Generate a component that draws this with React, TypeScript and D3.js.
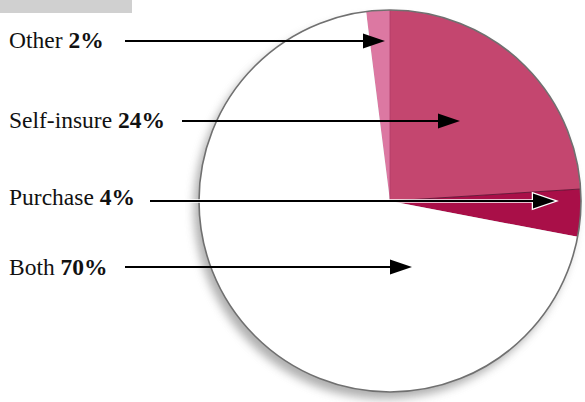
import React from "react";
import * as d3 from "d3";

// Shares of respondents by approach
const categories = ["Other", "Self-insure", "Purchase", "Both"];
const shares = [2, 24, 4, 70];
const sliceColors = ["#dc78a2", "#c4466f", "#a90f48", "#ffffff"];

// Label rows, pointer rows and where each pointer ends, measured from the pie centre
const labelY = [48, 128, 205, 275];
const arrowY = [41, 121, 201, 267];
const lineStartX = [125, 182, 150, 125];
const tipOffsetX = [-5, 70, 165, 22];
const haloed = [false, false, true, false];

const W = 585;
const H = 402;
const cx = 390;
const cy = 201;
const R = 191;

export default function App() {
  const start = -(shares[0] / 100) * 2 * Math.PI;
  const pie = d3
    .pie<number>()
    .sort(null)
    .value((d) => d)
    .startAngle(start)
    .endAngle(start + 2 * Math.PI);
  const arcs = pie(shares);
  const arc = d3.arc<d3.PieArcDatum<number>>().innerRadius(0).outerRadius(R);

  const headLen = 22;
  const headHalf = 7.5;

  return (
    <svg
      width={W}
      height={H}
      style={{ position: "absolute", left: 0, top: 0, background: "#fff" }}
      fontFamily="'Liberation Serif', 'Times New Roman', serif"
    >
      <defs>
        <filter id="pieShadow" x="-20%" y="-20%" width="140%" height="140%">
          <feGaussianBlur stdDeviation="5" />
        </filter>
      </defs>

      <rect x={0} y={0} width={132} height={13} fill="#d0d0d0" />

      {/* soft shadow under the disc */}
      <circle cx={cx - 5} cy={cy + 7} r={R} fill="#7a7a7a" opacity={0.6} filter="url(#pieShadow)" />

      <g transform={`translate(${cx},${cy})`}>
        {arcs.map((a, i) => (
          <path key={categories[i]} d={arc(a) ?? ""} fill={sliceColors[i]} />
        ))}
        {/* dark seams between coloured slices */}
        {arcs.slice(1, 3).map((a, i) => {
          const ang = a.startAngle;
          return (
            <line
              key={"seam" + i}
              x1={0}
              y1={0}
              x2={R * Math.sin(ang)}
              y2={-R * Math.cos(ang)}
              stroke={i === 1 ? "#5a1030" : "#b03a66"}
              strokeWidth={1}
              opacity={0.8}
            />
          );
        })}
        <circle r={R} fill="none" stroke="#707070" strokeWidth={1.6} />
      </g>

      {categories.map((c, i) => {
        const y = arrowY[i];
        const tipX = cx + tipOffsetX[i];
        const baseX = tipX - headLen;
        const head = `M${tipX},${y} L${baseX},${y - headHalf} L${baseX},${y + headHalf} Z`;
        return (
          <g key={c}>
            <text x={9} y={labelY[i]} fontSize={23.5} fill="#111">
              {c} <tspan fontWeight="bold">{shares[i]}%</tspan>
            </text>
            {haloed[i] && (
              <>
                <line x1={lineStartX[i]} y1={y} x2={baseX + 2} y2={y} stroke="#fff" strokeWidth={3.5} />
                <path d={head} fill="#fff" stroke="#fff" strokeWidth={2.5} />
              </>
            )}
            <line x1={lineStartX[i]} y1={y} x2={baseX + 2} y2={y} stroke="#000" strokeWidth={2} />
            <path d={head} fill="#000" />
          </g>
        );
      })}
    </svg>
  );
}
